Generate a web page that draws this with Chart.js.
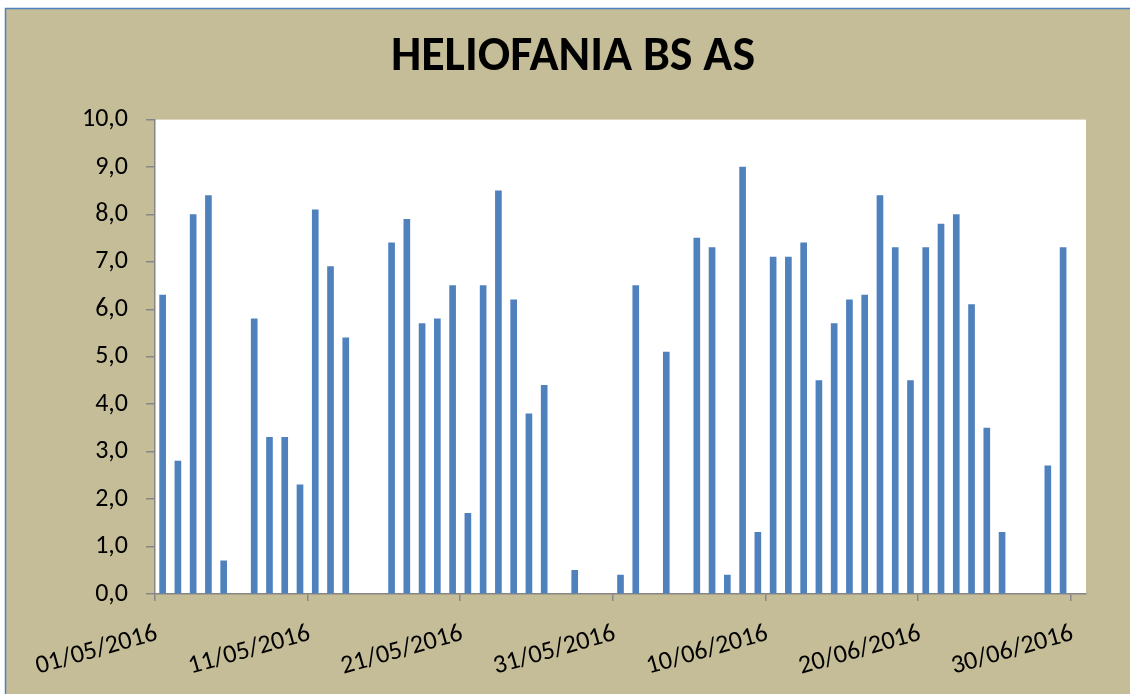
<!DOCTYPE html>
<html>
<head>
<meta charset="utf-8">
<script src="https://cdn.jsdelivr.net/npm/chart.js@4"></script>
<style>
html,body{margin:0;padding:0;background:#fff;}
#wrap{position:absolute;left:0;top:0;width:1130px;height:694px;}
</style>
</head>
<body>
<div id="wrap"><canvas id="c" width="1130" height="694"></canvas></div>
<script>
const chartTitle = 'HELIOFANIA BS AS';
const days = [
 '01/05/2016','02/05/2016','03/05/2016','04/05/2016','05/05/2016','06/05/2016','07/05/2016','08/05/2016','09/05/2016','10/05/2016',
 '11/05/2016','12/05/2016','13/05/2016','14/05/2016','15/05/2016','16/05/2016','17/05/2016','18/05/2016','19/05/2016','20/05/2016',
 '21/05/2016','22/05/2016','23/05/2016','24/05/2016','25/05/2016','26/05/2016','27/05/2016','28/05/2016','29/05/2016','30/05/2016',
 '31/05/2016','01/06/2016','02/06/2016','03/06/2016','04/06/2016','05/06/2016','06/06/2016','07/06/2016','08/06/2016','09/06/2016',
 '10/06/2016','11/06/2016','12/06/2016','13/06/2016','14/06/2016','15/06/2016','16/06/2016','17/06/2016','18/06/2016','19/06/2016',
 '20/06/2016','21/06/2016','22/06/2016','23/06/2016','24/06/2016','25/06/2016','26/06/2016','27/06/2016','28/06/2016','29/06/2016',
 '30/06/2016'
];
const heliofania = [
 6.3, 2.8, 8.0, 8.4, 0.7, null, 5.8, 3.3, 3.3, 2.3,
 8.1, 6.9, 5.4, null, null, 7.4, 7.9, 5.7, 5.8, 6.5,
 1.7, 6.5, 8.5, 6.2, 3.8, 4.4, null, 0.5, null, null,
 0.4, 6.5, null, 5.1, null, 7.5, 7.3, 0.4, 9.0, 1.3,
 7.1, 7.1, 7.4, 4.5, 5.7, 6.2, 6.3, 8.4, 7.3, 4.5,
 7.3, 7.8, 8.0, 6.1, 3.5, 1.3, null, null, 2.7, 7.3,
 null
];
const xTickIndex = [0, 10, 20, 30, 40, 50, 60];
const xTickLabels = ['01/05/2016','11/05/2016','21/05/2016','31/05/2016','10/06/2016','20/06/2016','30/06/2016'];
const yTicks = [0,1,2,3,4,5,6,7,8,9,10];

const FONT = "Carlito, Calibri, Lato, 'Open Sans', sans-serif";
const AXIS = '#868686';

const bgPlugin = {
  id: 'bg',
  beforeDraw(chart) {
    const ctx = chart.ctx, a = chart.chartArea;
    ctx.save();
    ctx.fillStyle = '#ffffff';
    ctx.fillRect(0, 0, chart.width, chart.height);
    ctx.fillStyle = '#C4BD97';
    ctx.fillRect(5, 8, chart.width - 5, chart.height - 8);
    ctx.strokeStyle = '#4F81BD';
    ctx.lineWidth = 1.5;
    ctx.beginPath();
    ctx.moveTo(5.5, chart.height);
    ctx.lineTo(5.5, 8.5);
    ctx.lineTo(chart.width, 8.5);
    ctx.stroke();
    ctx.fillStyle = '#ffffff';
    ctx.fillRect(a.left, a.top, a.right - a.left, a.bottom - a.top);
    ctx.restore();
  }
};

new Chart(document.getElementById('c'), {
  type: 'bar',
  data: {
    labels: days,
    datasets: [{
      label: 'Heliofania',
      data: heliofania,
      backgroundColor: '#4F81BD',
      borderWidth: 0,
      barThickness: 6,
      xAxisID: 'x',
      yAxisID: 'y'
    }]
  },
  plugins: [bgPlugin],
  options: {
    responsive: false,
    animation: false,
    devicePixelRatio: 1,
    layout: { padding: { left: 60, right: 44, top: 9, bottom: 0 } },
    plugins: {
      legend: { display: false },
      tooltip: { enabled: false },
      title: {
        display: true,
        text: chartTitle,
        color: '#000',
        font: { family: FONT, size: 48, weight: 'bold' },
        padding: { top: 20, bottom: 33 }
      }
    },
    scales: {
      x: {
        type: 'category',
        display: false,
        offset: true
      },
      x2: {
        type: 'linear',
        position: 'bottom',
        offset: false,
        min: 0,
        max: days.length,
        afterBuildTicks(scale) { scale.ticks = xTickIndex.map(v => ({ value: v })); },
        afterFit(scale) { scale.height = 100; },
        grid: { offset: false, drawOnChartArea: false, drawTicks: true, tickLength: 7, color: AXIS, lineWidth: 1.5 },
        border: { display: true, color: AXIS, width: 1.5 },
        ticks: {
          autoSkip: false,
          minRotation: 16,
          maxRotation: 16,
          padding: 17,
          labelOffset: 2,
          color: '#000',
          font: { family: FONT, size: 26 },
          callback(v) { const i = xTickIndex.indexOf(v); return i >= 0 ? xTickLabels[i] : ''; }
        }
      },
      y: {
        min: 0,
        max: 10,
        afterBuildTicks(scale) { scale.ticks = yTicks.map(v => ({ value: v })); },
        afterFit(scale) { scale.width = 95; },
        grid: { drawOnChartArea: false, drawTicks: true, tickLength: 9, color: AXIS, lineWidth: 1.5 },
        border: { display: true, color: AXIS, width: 1.5 },
        ticks: {
          padding: 18,
          color: '#000',
          font: { family: FONT, size: 26 },
          callback(v) { return Number(v).toFixed(1).replace('.', ','); }
        }
      }
    }
  }
});
</script>
</body>
</html>
